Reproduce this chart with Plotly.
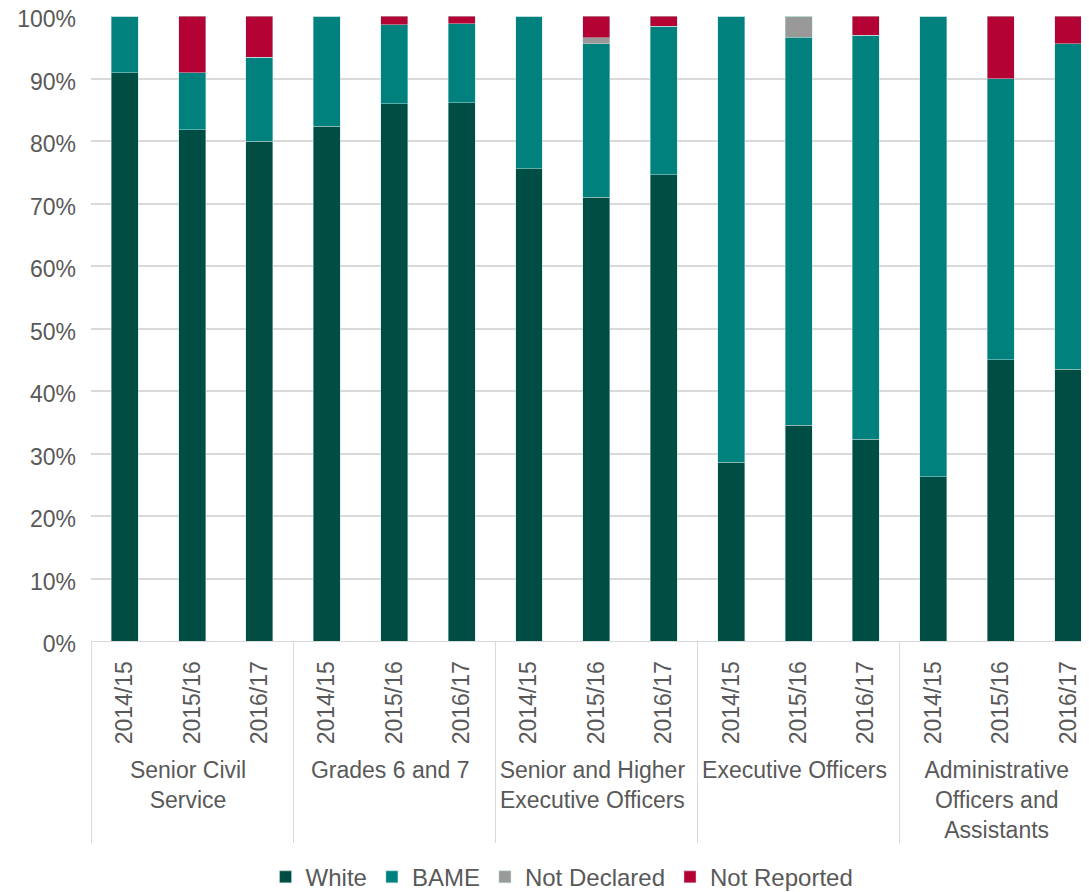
import plotly.graph_objects as go

grades = ['Senior Civil<br>Service'] * 3 + ['Grades 6 and 7'] * 3 + \
         ['Senior and Higher<br>Executive Officers'] * 3 + ['Executive Officers'] * 3 + \
         ['Administrative<br>Officers and<br>Assistants'] * 3
years = ['2014/15', '2015/16', '2016/17'] * 5

white = [90.9, 81.8, 80.0, 82.4, 86.0, 86.1, 75.6, 71.0, 74.6, 28.6, 34.5, 32.3, 26.3, 45.0, 43.5]
bame = [9.1, 9.1, 13.4, 17.6, 12.6, 12.7, 24.4, 24.6, 23.8, 71.4, 62.1, 64.6, 73.7, 45.0, 52.1]
not_declared = [0, 0, 0, 0, 0, 0, 0, 0.9, 0, 0, 3.4, 0, 0, 0, 0]
not_reported = [0, 9.1, 6.6, 0, 1.4, 1.2, 0, 3.5, 1.6, 0, 0, 3.1, 0, 10.0, 4.4]

series = [('White', white, '#004d44'),
          ('BAME', bame, '#00817d'),
          ('Not Declared', not_declared, '#999999'),
          ('Not Reported', not_reported, '#b50234')]

fig = go.Figure()
for name, vals, colour in series:
    fig.add_trace(go.Bar(x=[grades, years], y=vals, name=name,
                         marker=dict(color=colour, line=dict(color='rgba(190,225,222,0.8)', width=0.6)),
                         hovertemplate='%{x}: %{y}%<extra>' + name + '</extra>'))

# page body has an 8px margin, so the figure is a little smaller than the window
fig.update_layout(template='plotly_white',
                  barmode='stack', bargap=0.6,
                  width=1081, height=884,
                  margin=dict(l=83, r=0, t=8, b=251, autoexpand=False),
                  font=dict(family='Liberation Sans, Arial, sans-serif', size=24, color='#595959'),
                  plot_bgcolor='white', paper_bgcolor='white',
                  legend=dict(orientation='h', traceorder='normal',
                              x=0.472, xanchor='center', y=-0.378, yanchor='middle',
                              font=dict(size=24, color='#595959'), itemwidth=30, tracegroupgap=0),
                  showlegend=True)
fig.update_xaxes(type='multicategory', tickangle=-90, showgrid=False, automargin=False,
                 showline=True, linecolor='#d9d9d9', linewidth=1,
                 dividercolor='#d9d9d9', dividerwidth=1, ticks='',
                 ticklabelstandoff=10,
                 tickfont=dict(size=23, color='#595959'),
                 range=[-0.5, 14.31])
fig.update_yaxes(range=[0, 100], dtick=10, ticksuffix='%', showgrid=True, automargin=False,
                 gridcolor='#d9d9d9', gridwidth=1.5, zeroline=False, ticks='',
                 ticklabelstandoff=14, ticklabelshift=3, ticklabeloverflow='allow',
                 tickfont=dict(size=23, color='#595959'))

fig.write_html("out.html")
